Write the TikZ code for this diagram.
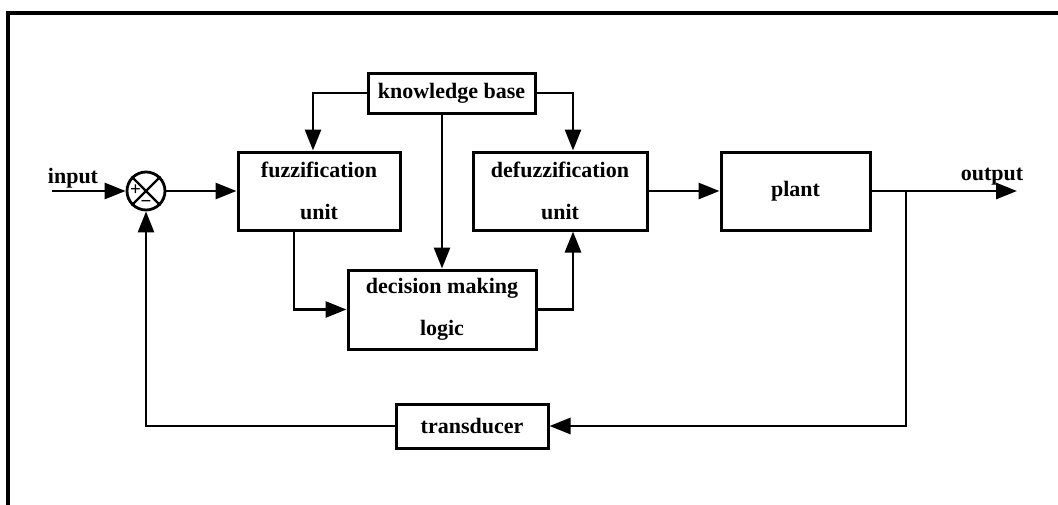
\documentclass[tikz,border=0pt]{standalone}
\usepackage{fontspec}
\setmainfont{Liberation Serif}
\usetikzlibrary{arrows.meta,calc}
\begin{document}
\begin{tikzpicture}[x=1pt,y=-1pt,
  lbl/.style={font=\fontsize{22}{42}\selectfont\bfseries, inner sep=0pt},
  block/.style={draw, line width=3pt, rectangle, align=center, inner sep=0pt,
    font=\fontsize{22}{42}\selectfont\bfseries},
  sign/.style={font=\fontsize{19}{19}\selectfont\bfseries, inner sep=0pt},
  link/.style={line width=2.8pt},
  arr/.style={line width=2.8pt, -{Triangle[length=21pt,width=16pt]}},
  frame/.style={line width=3.4pt}]
\useasboundingbox (0,0) rectangle (1058,504);
\begin{scope}
\clip (0,0) rectangle (1058,504);
\draw[frame] (8,530) |- (1080,13);
\end{scope}

% blocks
\node[block, minimum width=167pt, minimum height=40pt] (kb) at (451.5,93) {knowledge base};
\node[block, minimum width=162pt, minimum height=78pt] (fuzz) at (319,191) {fuzzification\\unit};
\node[block, minimum width=174pt, minimum height=78pt] (defuzz) at (560,191) {defuzzification\\unit};
\node[block, minimum width=188pt, minimum height=79pt] (dec) at (442,309.5) {decision making\\logic};
\node[block, minimum width=149pt, minimum height=78pt] (plant) at (795.5,191) {plant};
\node[block, minimum width=152pt, minimum height=44pt] (trans) at (472,426) {transducer};

% summing junction
\node[draw, circle, line width=2.8pt, minimum size=38pt, inner sep=0pt] (sum) at (146,191) {};
\draw[line width=2.4pt] (sum.45) -- (sum.225) (sum.135) -- (sum.315);
\node[sign] (plus) at (135.5,190) {+};
\node[sign] (minus) at (146,204.5) {\textminus};

% input and output
\coordinate (in) at (52,191);
\coordinate (out) at (1017,191);
\coordinate (tap) at (906,191);
\node[lbl] (inlbl) at (73,178) {input};
\node[lbl] (outlbl) at (992,177) {output};

% connectors
\draw[arr] (in) -- (sum.west);
\draw[arr] (sum.east) -- (fuzz.west);
\draw[arr] (kb.west) -| ([xshift=-6pt]fuzz.north);
\draw[arr] (kb.east) -| ([xshift=13pt]defuzz.north);
\draw[arr] (kb.south -| dec.north) -- (dec.north);
\draw[arr] ([xshift=-25pt]fuzz.south) |- (dec.west);
\draw[arr] (dec.east) -| ([xshift=13pt]defuzz.south);
\draw[arr] (defuzz.east) -- (plant.west);
\draw[arr] (plant.east) -- (out);
\draw[arr] (tap) |- (trans.east);
\draw[arr] (trans.west) -| (sum.south);
\end{tikzpicture}
\end{document}
